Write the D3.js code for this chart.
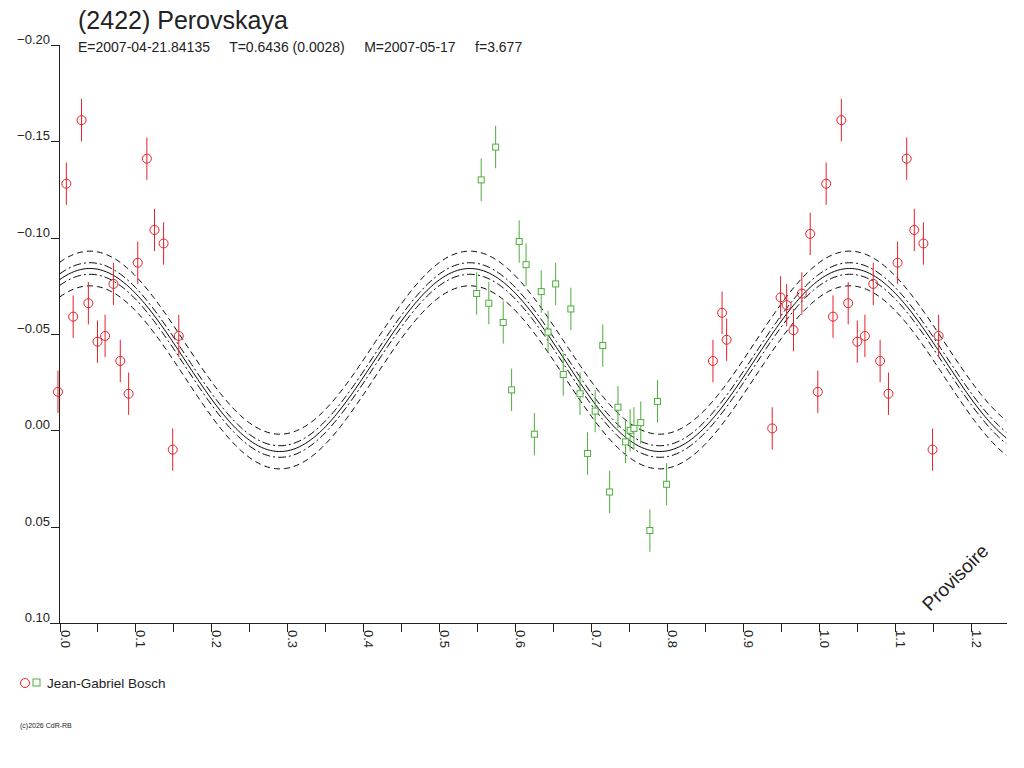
<!DOCTYPE html>
<html><head><meta charset="utf-8">
<script src="https://cdn.jsdelivr.net/npm/d3@7"></script>
<style>body{margin:0;background:#fff}text{font-family:Arial,"Liberation Sans",sans-serif}</style>
</head><body><div id="chart"></div>
<script>
// red observations: phase (0..1), magnitude
const redPhase = [0.860,0.872,0.878,0.938,0.949,0.957,0.966,0.977,0.988,0.998,0.009,0.018,0.029,0.038,0.050,0.060,0.071,0.080,0.091,0.103,0.115,0.125,0.137,0.149,0.157];
const redMag = [-0.036,-0.061,-0.047,-0.001,-0.069,-0.065,-0.052,-0.071,-0.102,-0.020,-0.128,-0.059,-0.161,-0.066,-0.046,-0.049,-0.076,-0.036,-0.019,-0.087,-0.141,-0.104,-0.097,0.010,-0.049];
// green observations
const greenPhase = [0.549,0.555,0.565,0.574,0.584,0.595,0.605,0.614,0.625,0.634,0.643,0.653,0.663,0.673,0.685,0.695,0.705,0.715,0.724,0.735,0.745,0.751,0.756,0.765,0.777,0.787,0.799];
const greenMag = [-0.071,-0.130,-0.066,-0.147,-0.056,-0.021,-0.098,-0.086,0.002,-0.072,-0.051,-0.076,-0.029,-0.063,-0.019,0.012,-0.010,-0.044,0.032,-0.012,0.006,0.000,-0.001,-0.004,0.052,-0.015,0.028];
const errBar = 0.011;
// fitted model: mean, amplitude (brightest = most negative), phase of maximum (2 cycles per period)
const fit = {mean: -0.0365, amp: -0.0475, peak: 0.04};
const bands = [{off: 0, dash: null}, {off: 0.003, dash: "8,3,2,3"}, {off: -0.003, dash: "8,3,2,3"}, {off: 0.009, dash: "6,4"}, {off: -0.009, dash: "6,4"}];
const xTicks = [0,0.1,0.2,0.3,0.4,0.5,0.6,0.7,0.8,0.9,1.0,1.1,1.2];
const yTicks = [-0.20,-0.15,-0.10,-0.05,0.00,0.05,0.10];

const W = 1024, H = 768;
const svg = d3.select("#chart").append("svg").attr("width", W).attr("height", H);
const x = d3.scaleLinear().domain([0, 1.247]).range([59.5, 1007]);
const y = d3.scaleLinear().domain([-0.20, 0.10]).range([45, 623]);

svg.append("text").attr("x", 78).attr("y", 29).attr("font-size", 25).attr("fill", "#222").text("(2422) Perovskaya");
svg.append("text").attr("x", 78).attr("y", 52).attr("font-size", 14).attr("fill", "#222")
  .attr("xml:space", "preserve")
  .text("E=2007-04-21.84135     T=0.6436 (0.0028)     M=2007-05-17     f=3.677");

// axes
const ax = svg.append("g").attr("stroke", "#222").attr("fill", "none");
ax.append("line").attr("x1", 59.5).attr("x2", 59.5).attr("y1", 45).attr("y2", 623);
ax.append("line").attr("x1", 50).attr("x2", 1007).attr("y1", 623.5).attr("y2", 623.5);
yTicks.forEach(t => ax.append("line").attr("x1", 51).attr("x2", 59.5).attr("y1", Math.round(y(t)) + 0.5).attr("y2", Math.round(y(t)) + 0.5));
d3.range(0, 1.25, 0.05).forEach(t => ax.append("line").attr("x1", Math.round(x(t)) + 0.5).attr("x2", Math.round(x(t)) + 0.5).attr("y1", 623).attr("y2", 632));
yTicks.forEach(t => svg.append("text").attr("x", 50).attr("y", y(t) - 1).attr("text-anchor", "end")
  .attr("font-size", 13).attr("fill", "#222").text(d3.format(".2f")(t)));
xTicks.forEach(t => svg.append("text").attr("transform", `translate(${x(t) + 1},${630}) rotate(90)`)
  .attr("font-size", 13).attr("fill", "#222").text(d3.format(".1f")(t)));

// model curves
const ph = d3.range(0, 1.2471, 0.002);
bands.forEach(b => {
  svg.append("path")
    .attr("d", d3.line().x(p => x(p)).y(p => y(fit.mean + b.off + fit.amp * Math.cos(4 * Math.PI * (p - fit.peak))))(ph))
    .attr("fill", "none").attr("stroke", "#000").attr("stroke-width", 1)
    .attr("stroke-dasharray", b.dash);
});

function copies(phases, mags) {
  const out = [];
  phases.forEach((p, i) => [-1, 0, 1].forEach(k => {
    const q = p + k;
    if (q >= -0.01 && q <= 1.247) out.push({p: q, m: mags[i]});
  }));
  return out;
}
const red = copies(redPhase, redMag), green = copies(greenPhase, greenMag);

const g = svg.append("g");
g.selectAll(".gerr").data(green).enter().append("line")
  .attr("x1", d => x(d.p)).attr("x2", d => x(d.p)).attr("y1", d => y(d.m - errBar)).attr("y2", d => y(d.m + errBar))
  .attr("stroke", "#4caf3a");
g.selectAll(".gsq").data(green).enter().append("rect")
  .attr("x", d => x(d.p) - 3).attr("y", d => y(d.m) - 3).attr("width", 6).attr("height", 6)
  .attr("fill", "#fff").attr("stroke", "#4caf3a");
g.selectAll(".rerr").data(red).enter().append("line")
  .attr("x1", d => x(d.p)).attr("x2", d => x(d.p)).attr("y1", d => y(d.m - errBar)).attr("y2", d => y(d.m + errBar))
  .attr("stroke", "#e8202a");
g.selectAll(".rc").data(red).enter().append("circle")
  .attr("cx", d => x(d.p)).attr("cy", d => y(d.m)).attr("r", 4.5)
  .attr("fill", "none").attr("stroke", "#e8202a");

svg.append("text").attr("transform", "translate(930,612) rotate(-45)").attr("font-size", 19).attr("fill", "#222").text("Provisoire");

// legend
svg.append("circle").attr("cx", 25).attr("cy", 683).attr("r", 4.5).attr("fill", "none").attr("stroke", "#e8202a");
svg.append("rect").attr("x", 33).attr("y", 679).attr("width", 7).attr("height", 7).attr("fill", "none").attr("stroke", "#4caf3a");
svg.append("text").attr("x", 47).attr("y", 688).attr("font-size", 13.5).attr("fill", "#222").text("Jean-Gabriel Bosch");
svg.append("text").attr("x", 20).attr("y", 728).attr("font-size", 7).attr("fill", "#222").text("(c)2026 CdR-RB");
</script></body></html>
